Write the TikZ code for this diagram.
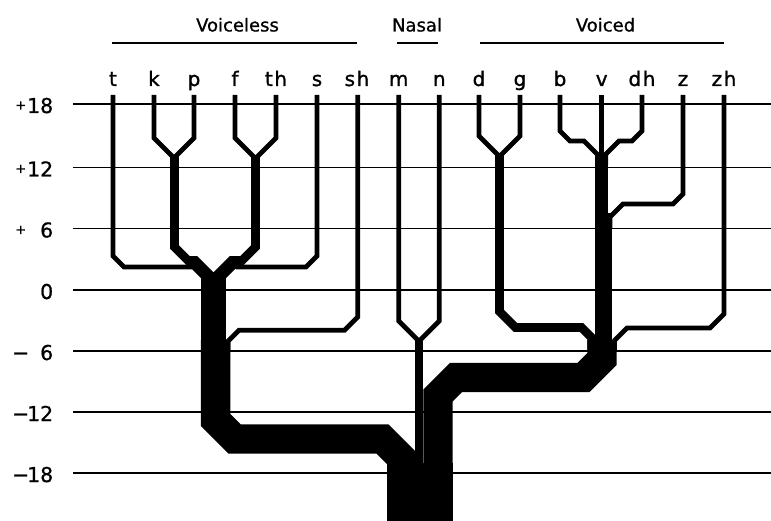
\documentclass[tikz,border=0pt]{standalone}
\usepackage{fontspec}
\setmainfont{DejaVu Sans}[FakeBold=0.8]
\newfontfamily\leaffont{DejaVu Sans}[FakeBold=1.2,LetterSpace=8]
% axis label: sign in a fixed slot, digits right-aligned
\newcommand\axlabel[2]{\makebox[13pt]{#1}\makebox[26pt][r]{#2}}
\newcommand\smallplus{\raisebox{3.5pt}{\fontsize{13}{13}\selectfont+}}

\begin{document}
\begin{tikzpicture}[x=1pt,y=-1pt,line join=miter,line cap=butt,
  gridline/.style={line width=1.5pt},
  grouprule/.style={line width=1.8pt},
  br1/.style={line width=4.7pt},
  br2/.style={line width=8.8pt},
  br3/.style={line width=12.9pt},
  br4/.style={line width=17pt},
  br6/.style={line width=25.2pt},
  br7/.style={line width=29.3pt},
  br16/.style={line width=66.2pt},
  leaf/.style={anchor=base,inner sep=0pt,font=\leaffont\fontsize{20}{20}\selectfont},
  head/.style={anchor=base,inner sep=0pt,font=\fontsize{18}{18}\selectfont},
  axis/.style={anchor=base west,inner sep=0pt,font=\fontsize{20.5}{20.5}\selectfont}]

\useasboundingbox (0,0) rectangle (771,521);
\fill[white] (0,0) rectangle (771,521);

% horizontal scale lines
\foreach \yy in {104,167.5,228.5,290,351,412,473}
  \draw[gridline] (73,\yy) -- (771,\yy);

% scale labels
\node[axis] (a18)  at (14,113)   {\axlabel{\smallplus}{18}};
\node[axis] (a12)  at (14,176.5) {\axlabel{\smallplus}{12}};
\node[axis] (a6)   at (14,237.5) {\axlabel{\smallplus}{6}};
\node[axis] (a0)   at (14,299)   {\axlabel{}{0}};
\node[axis] (am6)  at (14,360)   {\axlabel{−}{6}};
\node[axis] (am12) at (14,421)   {\axlabel{−}{12}};
\node[axis] (am18) at (14,482)   {\axlabel{−}{18}};

% group headings
\node[head] (hvl) at (237.5,31.5) {Voiceless};
\node[head] (hna) at (417,31.5)   {Nasal};
\node[head] (hvd) at (605.5,31.5) {Voiced};
\draw[grouprule] (112,43) -- (357,43);
\draw[grouprule] (397,43) -- (438,43);
\draw[grouprule] (480,43) -- (724,43);

% consonant labels
\foreach \nm/\xx in {t/113,k/154,p/194,f/235,th/276,s/317,sh/357,m/398.7,n/439.3,
                      d/479,g/520,b/560,v/601.7,dh/642,z/683,zh/724}
  \node[leaf] (\nm) at (\xx,86) {\nm};

% leaf tops
\foreach \nm/\xx in {t/113,k/154,p/194,f/235,th/276,s/317,sh/357.8,m/398.7,n/439.3,
                      d/479,g/520,b/560,v/601.7,dh/642,z/683,zh/724}
  \coordinate (\nm0) at (\xx,95);

% ---- voiceless cluster ----
\coordinate (kp) at (174.5,158.5);
\coordinate (fth) at (255.5,158.5);
\draw[br1] (k0) -- (154,138) -- (kp) -- (174.5,166);
\draw[br1] (p0) -- (194,138) -- (174.5,157.5) -- (174.5,166);
\draw[br2] (174.5,156) -- (174.5,247) -- (188,260.5) -- (196,260.5);
\draw[br1] (f0) -- (235,138) -- (fth) -- (255.5,166);
\draw[br1] (th0) -- (276,138) -- (fth) -- (255.5,166);
\draw[br2] (255.5,156) -- (255.5,247) -- (242,260.5) -- (234,260.5);
\draw[br1] (t0) -- (113,256) -- (124,267) -- (192,267);
\draw[br1] (s0) -- (317,256) -- (306,267) -- (236,267);
\coordinate (vl6) at (213.5,281.4);
\draw[br3] (186,262.5) -- (194.6,262.5) -- (vl6) -- (213.5,300);
\draw[br3] (242,262.5) -- (232.4,262.5) -- (vl6) -- (213.5,300);
\draw[br6] (213.5,278) -- (213.5,345);
\draw[br1] (sh0) -- (357.8,317) -- (344.5,330.3) -- (239,330.3) -- (227.9,341.4) -- (227.9,352);
\draw[br7] (215.6,340) -- (215.6,420) -- (234.6,439) -- (382.5,439) -- (401.65,458.15) -- (401.65,480);

% ---- nasal pair ----
\coordinate (mn) at (419,341.3);
\draw[br1] (m0) -- (398.7,321) -- (mn) -- (419,350);
\draw[br1] (n0) -- (439.3,321) -- (mn) -- (419,350);
\draw[br2] (419,339) -- (419,470);

% ---- voiced cluster ----
\coordinate (dg) at (499.5,156.5);
\draw[br1] (d0) -- (479,136) -- (dg) -- (499.5,166);
\draw[br1] (g0) -- (520,136) -- (dg) -- (499.5,166);
\draw[br2] (499.5,155) -- (499.5,311.5) -- (515.5,327.5) -- (581.5,327.5) -- (591.75,337.75) -- (591.75,350);
\draw[br1] (b0) -- (560,131) -- (570,141) -- (584,141) -- (597.6,154.6) -- (597.6,165);
\draw[br1] (v0) -- (601.7,170);
\draw[br1] (dh0) -- (642,131) -- (632,141) -- (619,141) -- (605.8,154.2) -- (605.8,165);
\draw[br3] (601.7,154) -- (601.7,220);
\draw[br1] (z0) -- (683,194) -- (673,204) -- (623,204) -- (610,217) -- (610,228);
\draw[br4] (603.6,213) -- (603.6,345);
\draw[br1] (zh0) -- (724,314) -- (710,328) -- (627,328) -- (614.6,340.4) -- (614.6,350);
\draw[br7] (602,340) -- (602,359) -- (583.5,377.5) -- (456,377.5) -- (438,395.5) -- (438,470);

% ---- root ----
\draw[br16] (419.8,463) -- (419.8,521);
\end{tikzpicture}
\end{document}
